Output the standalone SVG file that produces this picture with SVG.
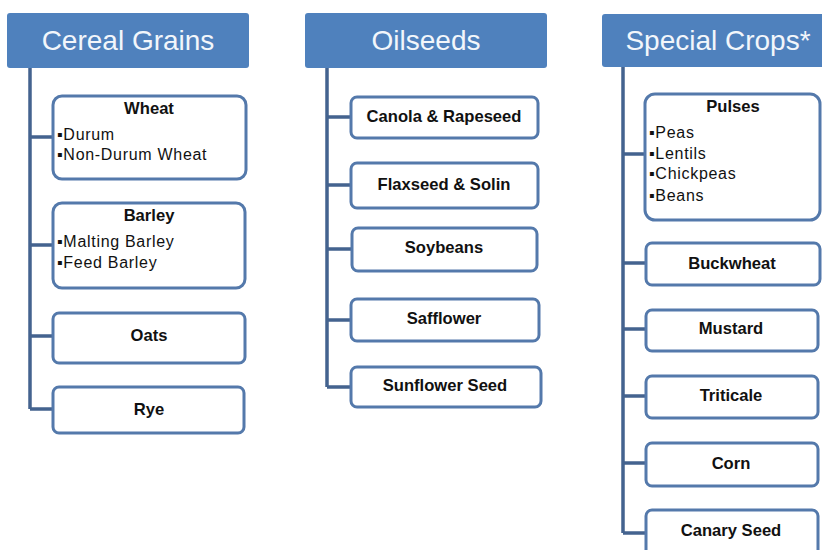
<svg xmlns="http://www.w3.org/2000/svg" width="822" height="550" viewBox="0 0 822 550">
  <style>
    .hdr { fill: #4f81bd; }
    .hdr-t { font-family: "Liberation Sans", Arial, sans-serif; font-size: 28px; fill: #f2f6fb; text-anchor: middle; }
    .box { fill: #ffffff; stroke: #5479ab; stroke-width: 3; }
    .lbl { font-family: "Liberation Sans", Arial, sans-serif; font-size: 16.6px; font-weight: bold; fill: #111111; text-anchor: middle; }
    .item { font-family: "Liberation Sans", Arial, sans-serif; font-size: 16px; fill: #111111; letter-spacing: 0.7px; }
    .link { fill: none; stroke: #44638f; stroke-width: 3.5; }
  </style>
  <rect width="822" height="550" fill="#ffffff"/>

  <!-- connectors -->
  <g id="connectors">
    <path class="link" d="M30,68 V409 M30,137 H53 M30,245 H53 M30,336 H53 M30,409 H53"/>
    <path class="link" d="M327,68 V387 M327,117 H351 M327,185 H351 M327,249 H351 M327,320 H351 M327,387 H351"/>
    <path class="link" d="M623,67 V533 M623,154 H645 M623,263 H646 M623,329 H646 M623,396 H646 M623,463 H646 M623,533 H646"/>
  </g>

  <!-- category headers -->
  <g id="cereal-grains">
    <rect class="hdr" x="7" y="13" width="242" height="55" rx="3"/>
    <text class="hdr-t" x="128" y="50">Cereal Grains</text>
  </g>
  <g id="oilseeds">
    <rect class="hdr" x="305" y="13" width="242" height="55" rx="3"/>
    <text class="hdr-t" x="426" y="50">Oilseeds</text>
  </g>
  <g id="special-crops">
    <rect class="hdr" x="602" y="14" width="226" height="53" rx="3"/>
    <text class="hdr-t" x="718" y="50">Special Crops*</text>
  </g>

  <!-- cereal grains -->
  <g id="wheat">
    <rect class="box" x="53" y="96" width="193" height="83" rx="9"/>
    <text class="lbl" x="149" y="114">Wheat</text>
    <text class="item" x="57" y="140">▪Durum</text>
    <text class="item" x="57" y="160">▪Non-Durum Wheat</text>
  </g>
  <g id="barley">
    <rect class="box" x="53" y="203" width="192" height="85" rx="9"/>
    <text class="lbl" x="149" y="221">Barley</text>
    <text class="item" x="57" y="247">▪Malting Barley</text>
    <text class="item" x="57" y="268">▪Feed Barley</text>
  </g>
  <g id="oats">
    <rect class="box" x="53" y="313" width="192" height="50" rx="6"/>
    <text class="lbl" x="149" y="341">Oats</text>
  </g>
  <g id="rye">
    <rect class="box" x="53" y="387" width="191" height="46" rx="6"/>
    <text class="lbl" x="149" y="415">Rye</text>
  </g>

  <!-- oilseeds -->
  <g id="canola">
    <rect class="box" x="351" y="97" width="187" height="41" rx="6"/>
    <text class="lbl" x="444" y="122">Canola &amp; Rapeseed</text>
  </g>
  <g id="flaxseed">
    <rect class="box" x="351" y="163" width="187" height="45" rx="6"/>
    <text class="lbl" x="444" y="190">Flaxseed &amp; Solin</text>
  </g>
  <g id="soybeans">
    <rect class="box" x="352" y="228" width="185" height="43" rx="6"/>
    <text class="lbl" x="444" y="253">Soybeans</text>
  </g>
  <g id="safflower">
    <rect class="box" x="351" y="299" width="188" height="42" rx="6"/>
    <text class="lbl" x="444" y="324">Safflower</text>
  </g>
  <g id="sunflower">
    <rect class="box" x="351" y="367" width="190" height="40" rx="6"/>
    <text class="lbl" x="445" y="391">Sunflower Seed</text>
  </g>

  <!-- special crops -->
  <g id="pulses">
    <rect class="box" x="645" y="94" width="175" height="126" rx="10"/>
    <text class="lbl" x="733" y="112">Pulses</text>
    <text class="item" x="649" y="138">▪Peas</text>
    <text class="item" x="649" y="159">▪Lentils</text>
    <text class="item" x="649" y="179">▪Chickpeas</text>
    <text class="item" x="649" y="201">▪Beans</text>
  </g>
  <g id="buckwheat">
    <rect class="box" x="646" y="243" width="174" height="42" rx="6"/>
    <text class="lbl" x="732" y="269">Buckwheat</text>
  </g>
  <g id="mustard">
    <rect class="box" x="646" y="310" width="172" height="41" rx="6"/>
    <text class="lbl" x="731" y="334">Mustard</text>
  </g>
  <g id="triticale">
    <rect class="box" x="646" y="376" width="172" height="42" rx="6"/>
    <text class="lbl" x="731" y="401">Triticale</text>
  </g>
  <g id="corn">
    <rect class="box" x="646" y="443" width="172" height="43" rx="6"/>
    <text class="lbl" x="731" y="469">Corn</text>
  </g>
  <g id="canary-seed">
    <rect class="box" x="646" y="510" width="172" height="50" rx="6"/>
    <text class="lbl" x="731" y="536">Canary Seed</text>
  </g>
</svg>
